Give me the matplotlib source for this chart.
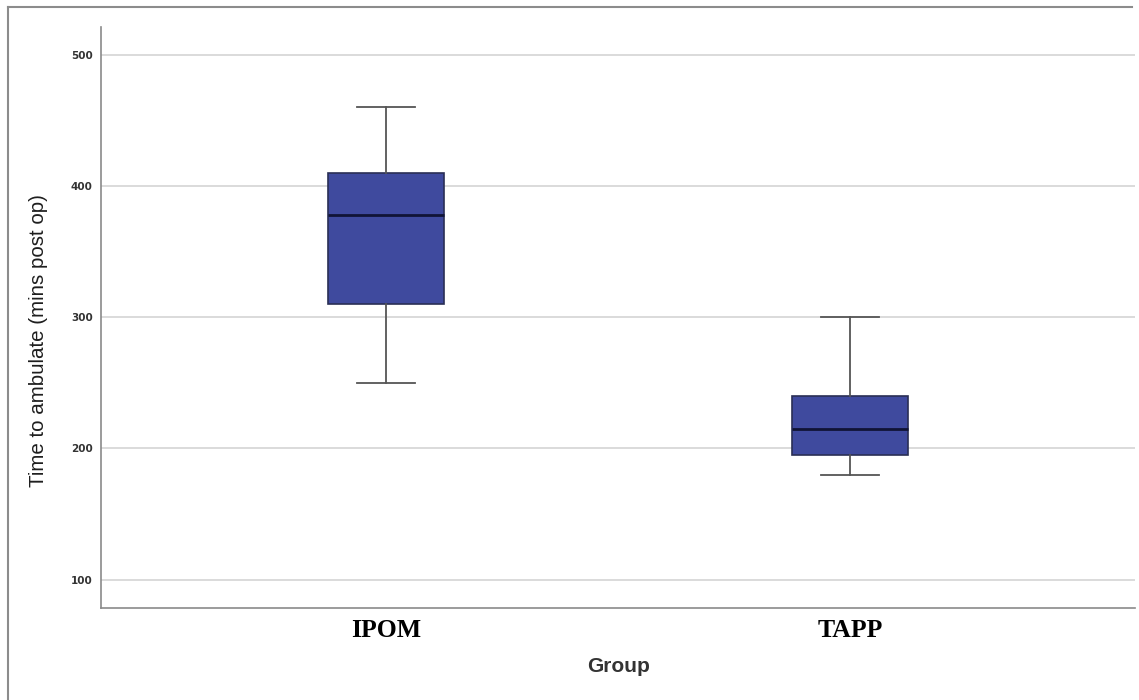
import matplotlib
matplotlib.use("Agg")
import matplotlib.pyplot as plt
from matplotlib.lines import Line2D

# Summary statistics of time to ambulate (minutes post op) by group
groups = ["IPOM", "TAPP"]
whisker_low = [250, 180]
q1 = [310, 195]
median = [378, 215]
q3 = [410, 240]
whisker_high = [460, 300]

y_ticks = [100, 200, 300, 400, 500]

fig = plt.figure(figsize=(11.39, 7.00), dpi=100)
ax = fig.add_axes([0.0887, 0.1314, 0.908, 0.830])

stats = [
    {"label": g, "whislo": lo, "q1": a, "med": m, "q3": b, "whishi": hi, "fliers": []}
    for g, lo, a, m, b, hi in zip(groups, whisker_low, q1, median, q3, whisker_high)
]

ax.bxp(
    stats,
    positions=range(len(groups)),
    widths=0.25,
    patch_artist=True,
    showfliers=False,
    boxprops=dict(facecolor="#3f4a9e", edgecolor="#2a2f55", linewidth=1.2),
    medianprops=dict(color="#101436", linewidth=2.0),
    whiskerprops=dict(color="#555555", linewidth=1.3),
    capprops=dict(color="#555555", linewidth=1.3),
    capwidths=0.125,
    zorder=3,
)

ax.set_xlim(-0.614, 1.614)
ax.set_ylim(78.5, 521)
ax.set_yticks(y_ticks)
ax.yaxis.grid(True, color="#d4d4d4", linewidth=1.2, zorder=0)
ax.set_axisbelow(True)

ax.set_xticks(range(len(groups)))
ax.set_xticklabels(groups, fontfamily="Liberation Serif", fontweight="bold", fontsize=18.5)
for lbl in ax.get_yticklabels():
    lbl.set_fontsize(7.5)
    lbl.set_fontweight("bold")
    lbl.set_color("#333333")
ax.tick_params(axis="both", length=0, pad=6)
ax.tick_params(axis="x", pad=8)

ax.spines["top"].set_visible(False)
ax.spines["right"].set_visible(False)
ax.spines["left"].set_color("#8a8a8a")
ax.spines["bottom"].set_color("#8a8a8a")
ax.spines["left"].set_linewidth(1.2)
ax.spines["bottom"].set_linewidth(1.2)

ax.set_xlabel("Group", fontsize=15, fontfamily="Liberation Sans", fontweight="bold",
              color="#333333", labelpad=11)
ax.set_ylabel("Time to ambulate (mins post op)", fontsize=14.8, fontfamily="Liberation Sans",
              color="#1e1e1e")
ax.yaxis.set_label_coords(-0.0513, 0.461)

# Outer frame around the whole figure
frame_kw = dict(color="#8c8c8c", linewidth=1.5, transform=fig.transFigure)
fig.add_artist(Line2D([8 / 1139, 8 / 1139], [0, 1 - 7 / 700], **frame_kw))
fig.add_artist(Line2D([8 / 1139, 1132 / 1139], [1 - 7 / 700, 1 - 7 / 700], **frame_kw))

fig.savefig("out.png", dpi=100)
